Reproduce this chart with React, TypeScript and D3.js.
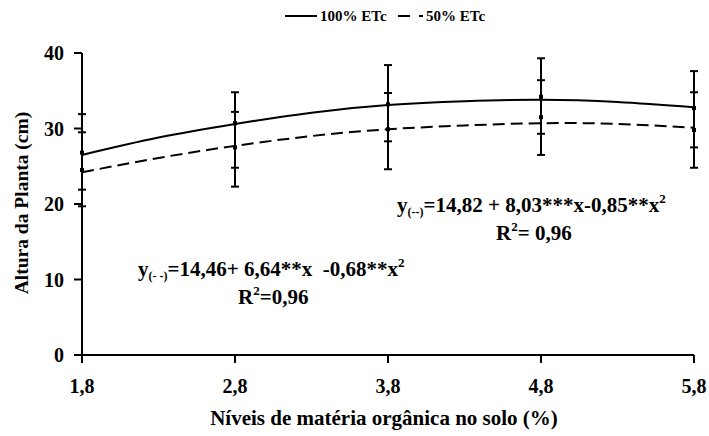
import React from 'react';
import * as d3 from 'd3';

// x levels (organic matter %) and tick labels
const levels = [1.8, 2.8, 3.8, 4.8, 5.8];
const xTickLabels = ['1,8', '2,8', '3,8', '4,8', '5,8'];
const yTicks = [0, 10, 20, 30, 40];

// fitted curves
const curveX = [1.8, 2.3, 2.8, 3.3, 3.8, 4.3, 4.8, 5.3, 5.8];
const fit100 = [26.5, 28.8, 30.6, 32.1, 33.1, 33.6, 33.8, 33.5, 32.8];
const fit50 = [24.2, 26.1, 27.7, 29.0, 29.9, 30.4, 30.7, 30.6, 30.1];

// observed means with error bars
const mean100 = [26.8, 30.7, 33.2, 34.2, 32.7];
const hi100 = [31.9, 34.8, 38.4, 39.3, 37.6];
const lo100 = [21.9, 24.8, 28.3, 29.3, 27.5];
const mean50 = [24.5, 27.5, 29.9, 31.5, 29.8];
const hi50 = [29.5, 32.2, 34.7, 36.4, 34.8];
const lo50 = [19.7, 22.3, 24.6, 26.5, 24.8];

const font = '"Liberation Serif", "Times New Roman", serif';

export default function App() {
  const width = 709, height = 436;
  const x = d3.scaleLinear().domain([1.8, 5.8]).range([82, 694]);
  const y = d3.scaleLinear().domain([0, 40]).range([355, 53]);

  const line = d3.line<number>()
    .x((d, i) => x(curveX[i]))
    .y(d => y(d))
    .curve(d3.curveNatural);

  const bars = (means: number[], hi: number[], lo: number[]) =>
    levels.map((lv, i) => (
      <g key={i} stroke="#000" strokeWidth={2}>
        <line x1={x(lv)} x2={x(lv)} y1={y(hi[i])} y2={y(lo[i])} />
        <line x1={x(lv) - 4} x2={x(lv) + 4} y1={y(hi[i])} y2={y(hi[i])} />
        <line x1={x(lv) - 4} x2={x(lv) + 4} y1={y(lo[i])} y2={y(lo[i])} />
        <rect x={x(lv) - 2} y={y(means[i]) - 2} width={4} height={4} fill="#000" stroke="none" />
      </g>
    ));

  return (
    <svg width={width} height={height} style={{ position: 'absolute', left: 0, top: 0 }}
      fontFamily={font} fontWeight="bold">
      <rect width={width} height={height} fill="#fff" />

      {/* legend */}
      <line x1={285} x2={317} y1={16} y2={16} stroke="#000" strokeWidth={2} />
      <text x={320} y={21} fontSize={15}>100% ETc</text>
      <line x1={398} x2={424} y1={16} y2={16} stroke="#000" strokeWidth={2} strokeDasharray="12,9,4" />
      <text x={426} y={21} fontSize={15}>50% ETc</text>

      {/* axes */}
      <g stroke="#000" strokeWidth={2}>
        <line x1={x(1.8)} x2={x(1.8)} y1={y(40)} y2={y(0)} />
        <line x1={x(1.8)} x2={x(5.8)} y1={y(0)} y2={y(0)} />
        {yTicks.map(t => (
          <line key={t} x1={x(1.8) - 8} x2={x(1.8)} y1={y(t)} y2={y(t)} />
        ))}
        {levels.map(lv => (
          <line key={lv} x1={x(lv)} x2={x(lv)} y1={y(0)} y2={y(0) + 8} />
        ))}
      </g>
      {yTicks.map(t => (
        <text key={t} x={64} y={y(t) + 7} fontSize={20} textAnchor="end">{t}</text>
      ))}
      {levels.map((lv, i) => (
        <text key={lv} x={x(lv)} y={393} fontSize={20} textAnchor="middle">{xTickLabels[i]}</text>
      ))}
      <text x={384} y={425} fontSize={21} textAnchor="middle">Níveis de matéria orgânica no solo (%)</text>
      <text transform="translate(28,203) rotate(-90)" fontSize={19.5} textAnchor="middle">Altura da Planta (cm)</text>

      {/* fitted curves */}
      <path d={line(fit100) || ''} fill="none" stroke="#000" strokeWidth={2} />
      <path d={line(fit50) || ''} fill="none" stroke="#000" strokeWidth={2} strokeDasharray="12,6" />

      {bars(mean100, hi100, lo100)}
      {bars(mean50, hi50, lo50)}

      {/* equations */}
      <text x={397} y={212} fontSize={21} style={{ whiteSpace: 'pre' }}>
        y<tspan fontSize={12} dy={4}>(--)</tspan><tspan dy={-4}>=14,82 + 8,03***x-0,85**x</tspan><tspan fontSize={13} dy={-9}>2</tspan>
      </text>
      <text x={496} y={240} fontSize={21} style={{ whiteSpace: 'pre' }}>
        R<tspan fontSize={13} dy={-9}>2</tspan><tspan dy={9}>= 0,96</tspan>
      </text>
      <text x={138} y={276} fontSize={21} style={{ whiteSpace: 'pre' }}>
        y<tspan fontSize={12} dy={4}>(- -)</tspan><tspan dy={-4}>{'=14,46+ 6,64**x  -0,68**x'}</tspan><tspan fontSize={13} dy={-9}>2</tspan>
      </text>
      <text x={238} y={304} fontSize={21} style={{ whiteSpace: 'pre' }}>
        R<tspan fontSize={13} dy={-9}>2</tspan><tspan dy={9}>=0,96</tspan>
      </text>
    </svg>
  );
}
